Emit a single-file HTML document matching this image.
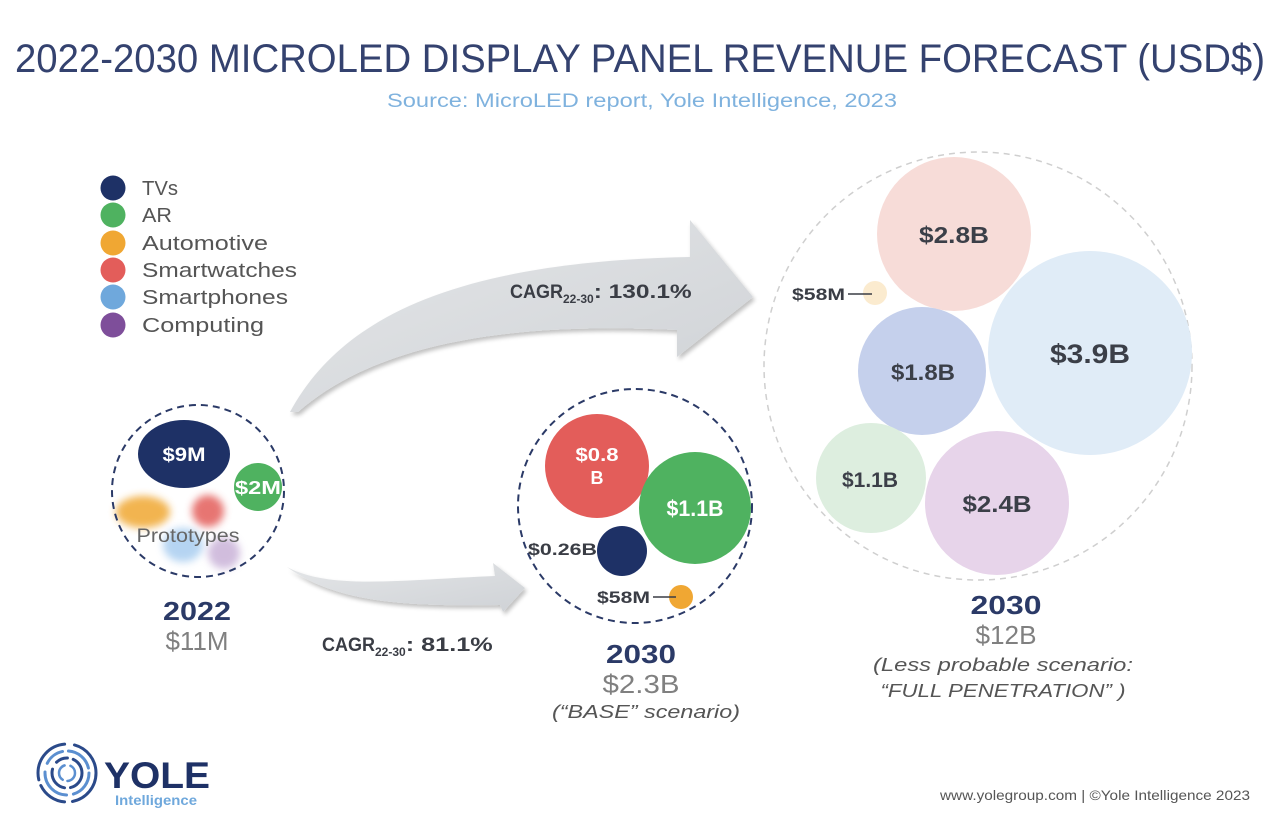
<!DOCTYPE html>
<html><head><meta charset="utf-8">
<style>
html,body{margin:0;padding:0;background:#fff;}
svg{display:block;}
text{font-family:"Liberation Sans",sans-serif;}
</style></head>
<body>
<svg width="1280" height="830" viewBox="0 0 1280 830" xmlns="http://www.w3.org/2000/svg">
<defs>
  <linearGradient id="ag" x1="0" y1="0" x2="1" y2="1">
    <stop offset="0" stop-color="#e4e6e8"/>
    <stop offset="1" stop-color="#cfd2d6"/>
  </linearGradient>
  <filter id="sh" x="-10%" y="-10%" width="120%" height="130%">
    <feGaussianBlur in="SourceAlpha" stdDeviation="2"/>
    <feOffset dx="2" dy="3" result="o"/>
    <feComponentTransfer><feFuncA type="linear" slope="0.25"/></feComponentTransfer>
    <feMerge><feMergeNode/><feMergeNode in="SourceGraphic"/></feMerge>
  </filter>
  <filter id="blur"><feGaussianBlur stdDeviation="4"/></filter>
</defs>

<!-- Title -->
<text x="640" y="72" text-anchor="middle" font-size="40" fill="#34426f" textLength="1250" lengthAdjust="spacingAndGlyphs">2022-2030 MICROLED DISPLAY PANEL REVENUE FORECAST (USD$)</text>
<text x="642" y="107" text-anchor="middle" font-size="19" fill="#7fb2de" textLength="510" lengthAdjust="spacingAndGlyphs">Source: MicroLED report, Yole Intelligence, 2023</text>

<!-- Legend -->
<g font-size="20" fill="#555">
  <circle cx="113" cy="188" r="12.5" fill="#1e3166"/><text x="142" y="195" textLength="36" lengthAdjust="spacingAndGlyphs">TVs</text>
  <circle cx="113" cy="215" r="12.5" fill="#4fb260"/><text x="142" y="222" textLength="30" lengthAdjust="spacingAndGlyphs">AR</text>
  <circle cx="113" cy="243" r="12.5" fill="#f0a733"/><text x="142" y="250" textLength="126" lengthAdjust="spacingAndGlyphs">Automotive</text>
  <circle cx="113" cy="270" r="12.5" fill="#e35d5a"/><text x="142" y="277" textLength="155" lengthAdjust="spacingAndGlyphs">Smartwatches</text>
  <circle cx="113" cy="297" r="12.5" fill="#6fa8dc"/><text x="142" y="304" textLength="146" lengthAdjust="spacingAndGlyphs">Smartphones</text>
  <circle cx="113" cy="325" r="12.5" fill="#7e4e9a"/><text x="142" y="332" textLength="122" lengthAdjust="spacingAndGlyphs">Computing</text>
</g>

<!-- Arrows -->
<path d="M 290 412 C 340 320, 450 262, 690 257 L 690 220 L 753 297 L 677 357 L 677 330 C 520 322, 380 340, 298 412 Z" fill="url(#ag)" filter="url(#sh)"/>
<path d="M 287 567 C 330 590, 400 580, 495 576 L 493 563 L 525 588 L 503 612 L 500 605 C 420 606, 340 606, 287 567 Z" fill="url(#ag)" filter="url(#sh)"/>

<text x="510" y="298" font-size="19" font-weight="bold" fill="#3a3d45"><tspan textLength="53" lengthAdjust="spacingAndGlyphs">CAGR</tspan><tspan font-size="12" dy="5">22-30</tspan><tspan dy="-5" textLength="98" lengthAdjust="spacingAndGlyphs">: 130.1%</tspan></text>
<text x="322" y="651" font-size="19" font-weight="bold" fill="#3a3d45"><tspan textLength="53" lengthAdjust="spacingAndGlyphs">CAGR</tspan><tspan font-size="12" dy="5">22-30</tspan><tspan dy="-5" textLength="87" lengthAdjust="spacingAndGlyphs">: 81.1%</tspan></text>

<!-- 2022 circle -->
<g filter="url(#blur)" opacity="0.85">
  <ellipse cx="143" cy="512" rx="27" ry="16" fill="#f0a733"/>
  <circle cx="208" cy="511" r="16" fill="#e35d5a"/>
  <ellipse cx="183" cy="545" rx="20" ry="17" fill="#a9cdf0"/>
  <circle cx="224" cy="553" r="16" fill="#c9b2d8"/>
</g>
<circle cx="198" cy="491" r="86" fill="none" stroke="#2b3a67" stroke-width="2" stroke-dasharray="7 5"/>
<ellipse cx="184" cy="454" rx="46" ry="34" fill="#1e3166"/>
<text x="184" y="461" text-anchor="middle" font-size="19" font-weight="bold" fill="#fff" textLength="43" lengthAdjust="spacingAndGlyphs">$9M</text>
<circle cx="258" cy="487" r="24" fill="#4fb260"/>
<text x="258" y="494" text-anchor="middle" font-size="18" font-weight="bold" fill="#fff" textLength="46" lengthAdjust="spacingAndGlyphs">$2M</text>
<text x="188" y="542" text-anchor="middle" font-size="19" fill="#666" textLength="103" lengthAdjust="spacingAndGlyphs">Prototypes</text>
<text x="197" y="620" text-anchor="middle" font-size="26" font-weight="bold" fill="#2b3a67" textLength="68" lengthAdjust="spacingAndGlyphs">2022</text>
<text x="197" y="650" text-anchor="middle" font-size="26" fill="#808080" textLength="63" lengthAdjust="spacingAndGlyphs">$11M</text>

<!-- 2030 base circle -->
<circle cx="635" cy="506" r="117" fill="none" stroke="#2b3a67" stroke-width="2" stroke-dasharray="7 5"/>
<circle cx="597" cy="466" r="52" fill="#e35d5a"/>
<text x="597" y="461" text-anchor="middle" font-size="18" font-weight="bold" fill="#fff" textLength="43" lengthAdjust="spacingAndGlyphs">$0.8</text>
<text x="597" y="484" text-anchor="middle" font-size="18" font-weight="bold" fill="#fff">B</text>
<circle cx="695" cy="508" r="56" fill="#4fb260"/>
<text x="695" y="516" text-anchor="middle" font-size="22" font-weight="bold" fill="#fff" textLength="57" lengthAdjust="spacingAndGlyphs">$1.1B</text>
<circle cx="622" cy="551" r="25" fill="#1e3166"/>
<text x="597" y="555" text-anchor="end" font-size="17" font-weight="bold" fill="#3a3d45" textLength="69" lengthAdjust="spacingAndGlyphs">$0.26B</text>
<circle cx="681" cy="597" r="12" fill="#f0a733"/>
<text x="650" y="603" text-anchor="end" font-size="17" font-weight="bold" fill="#3a3d45" textLength="53" lengthAdjust="spacingAndGlyphs">$58M</text>
<line x1="653" y1="597" x2="676" y2="597" stroke="#3a3d45" stroke-width="1.5"/>
<text x="641" y="663" text-anchor="middle" font-size="26" font-weight="bold" fill="#2b3a67" textLength="70" lengthAdjust="spacingAndGlyphs">2030</text>
<text x="641" y="693" text-anchor="middle" font-size="26" fill="#808080" textLength="77" lengthAdjust="spacingAndGlyphs">$2.3B</text>
<text x="646" y="718" text-anchor="middle" font-size="18" font-style="italic" fill="#555" textLength="188" lengthAdjust="spacingAndGlyphs">(“BASE” scenario)</text>

<!-- 2030 full penetration -->
<circle cx="978" cy="366" r="214" fill="none" stroke="#cfcfcf" stroke-width="1.5" stroke-dasharray="6 5"/>
<circle cx="954" cy="234" r="77" fill="#f7dcd8"/>
<circle cx="1090" cy="353" r="102" fill="#e0ecf7"/>
<circle cx="922" cy="371" r="64" fill="#c5d0ec"/>
<circle cx="871" cy="478" r="55" fill="#ddeedf"/>
<circle cx="997" cy="503" r="72" fill="#e7d4ea"/>
<circle cx="875" cy="293" r="12" fill="#fbebcf"/>
<g font-weight="bold" fill="#3b3f48" text-anchor="middle">
  <text x="954" y="243" font-size="23" textLength="70" lengthAdjust="spacingAndGlyphs">$2.8B</text>
  <text x="1090" y="363" font-size="27" textLength="80" lengthAdjust="spacingAndGlyphs">$3.9B</text>
  <text x="923" y="380" font-size="22" textLength="64" lengthAdjust="spacingAndGlyphs">$1.8B</text>
  <text x="870" y="487" font-size="21" textLength="56" lengthAdjust="spacingAndGlyphs">$1.1B</text>
  <text x="997" y="512" font-size="23" textLength="69" lengthAdjust="spacingAndGlyphs">$2.4B</text>
</g>
<text x="845" y="300" text-anchor="end" font-size="17" font-weight="bold" fill="#3a3d45" textLength="53" lengthAdjust="spacingAndGlyphs">$58M</text>
<line x1="848" y1="294" x2="872" y2="294" stroke="#3a3d45" stroke-width="1.5"/>
<text x="1006" y="614" text-anchor="middle" font-size="26" font-weight="bold" fill="#2b3a67" textLength="71" lengthAdjust="spacingAndGlyphs">2030</text>
<text x="1006" y="644" text-anchor="middle" font-size="26" fill="#808080" textLength="61" lengthAdjust="spacingAndGlyphs">$12B</text>
<text x="1003" y="671" text-anchor="middle" font-size="18" font-style="italic" fill="#555" textLength="260" lengthAdjust="spacingAndGlyphs">(Less probable scenario:</text>
<text x="1003" y="697" text-anchor="middle" font-size="18" font-style="italic" fill="#555" textLength="245" lengthAdjust="spacingAndGlyphs">“FULL PENETRATION” )</text>

<!-- Footer -->
<text x="1250" y="800" text-anchor="end" font-size="14" fill="#555" textLength="310" lengthAdjust="spacingAndGlyphs">www.yolegroup.com | ©Yole Intelligence 2023</text>

<!-- Logo -->
<g fill="none" stroke-linecap="round">
  <circle cx="67" cy="773" r="29" stroke="#2b4a8a" stroke-width="3" stroke-dasharray="40 8 30 6 50 10"/>
  <circle cx="67" cy="773" r="22" stroke="#5b8fd0" stroke-width="3" stroke-dasharray="28 7 35 9 20 6"/>
  <circle cx="67" cy="773" r="15" stroke="#2b4a8a" stroke-width="3" stroke-dasharray="20 6 25 8 12 6"/>
  <circle cx="67" cy="773" r="8" stroke="#5b8fd0" stroke-width="2.5" stroke-dasharray="12 5 18 6"/>
</g>
<text x="104" y="788" font-size="37" font-weight="bold" fill="#1e3166" textLength="106" lengthAdjust="spacingAndGlyphs">YOLE</text>
<text x="115" y="805" font-size="14" font-weight="bold" fill="#6fa8dc" textLength="82" lengthAdjust="spacingAndGlyphs">Intelligence</text>
</svg>
</body></html>
